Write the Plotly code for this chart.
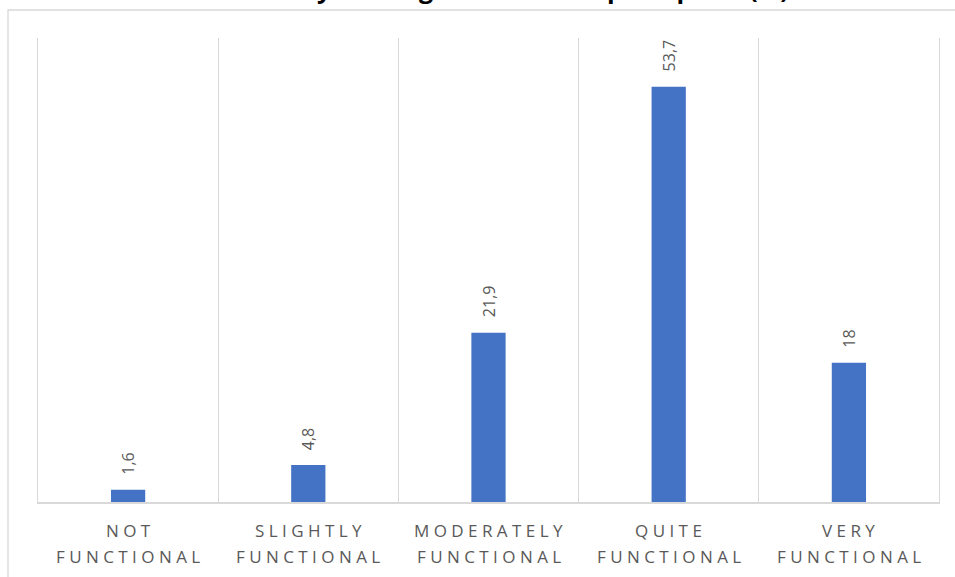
import plotly.graph_objects as go

# Response categories (two-line labels) and percentages
line1 = ["NOT", "SLIGHTLY", "MODERATELY", "QUITE", "VERY"]
line2 = ["FUNCTIONAL", "FUNCTIONAL", "FUNCTIONAL", "FUNCTIONAL", "FUNCTIONAL"]
values = [1.6, 4.8, 21.9, 53.7, 18]
title_text = "Functionality of integrated disease perception (%)"

GRID = "#d9d9d9"
TEXT = "#595959"
BAR = "#4472C4"
FONT = "Open Sans"

W, H = 955, 577
L, R, T, B = 38, 16, 38, 75
PW, PH = W - L - R, H - T - B


def spaced(word):
    # wide letter spacing for the axis labels
    return " ".join(word)


categories = [a + " " + b for a, b in zip(line1, line2)]
labels = [f"{v:g}".replace(".", ",") for v in values]

fig = go.Figure()
fig.add_trace(go.Bar(
    x=categories,
    y=values,
    marker=dict(color=BAR, line=dict(width=0)),
    width=0.19,
    hoverinfo="skip",
))

# rotated value labels above each bar
for c, v, t in zip(categories, values, labels):
    fig.add_annotation(
        x=c, y=v, text=t, textangle=-90, showarrow=False,
        yanchor="bottom", yshift=13,
        font=dict(family=FONT, size=16, color=TEXT),
    )

# two-line category labels under the axis
for c, a, b in zip(categories, line1, line2):
    for text, shift in ((a, -28), (b, -54)):
        fig.add_annotation(
            x=c, y=0, yref="y", text=spaced(text), showarrow=False,
            yanchor="middle", yshift=shift,
            font=dict(family=FONT, size=17, color=TEXT),
        )

# chart title, sitting at the very top edge
fig.add_annotation(
    text=f"<b>{title_text}</b>", showarrow=False,
    xref="paper", yref="paper", x=(W / 2 - L) / PW, xanchor="center",
    y=(H - B - 7) / PH, yanchor="bottom",
    font=dict(family=FONT, size=25, color="black"),
)

# outer chart border
fig.add_shape(
    type="rect", xref="paper", yref="paper",
    x0=(8 - L) / PW, x1=(965 - L) / PW,
    y0=(H - B - 590) / PH, y1=(H - B - 10) / PH,
    line=dict(color=GRID, width=1.3), layer="below",
)

fig.update_layout(
    width=W, height=H,
    margin=dict(l=L, r=R, t=T, b=B),
    paper_bgcolor="white", plot_bgcolor="white",
    showlegend=False,
    xaxis=dict(
        type="category",
        tickson="boundaries",
        showgrid=True, gridcolor=GRID, gridwidth=1.3,
        showline=True, linecolor=GRID, linewidth=1.5,
        ticks="", showticklabels=False,
    ),
    yaxis=dict(
        range=[0, 60],
        showgrid=False, zeroline=False, showticklabels=False,
        showline=True, mirror=True, linecolor=GRID, linewidth=1.3,
    ),
)

fig.write_html("out.html")
